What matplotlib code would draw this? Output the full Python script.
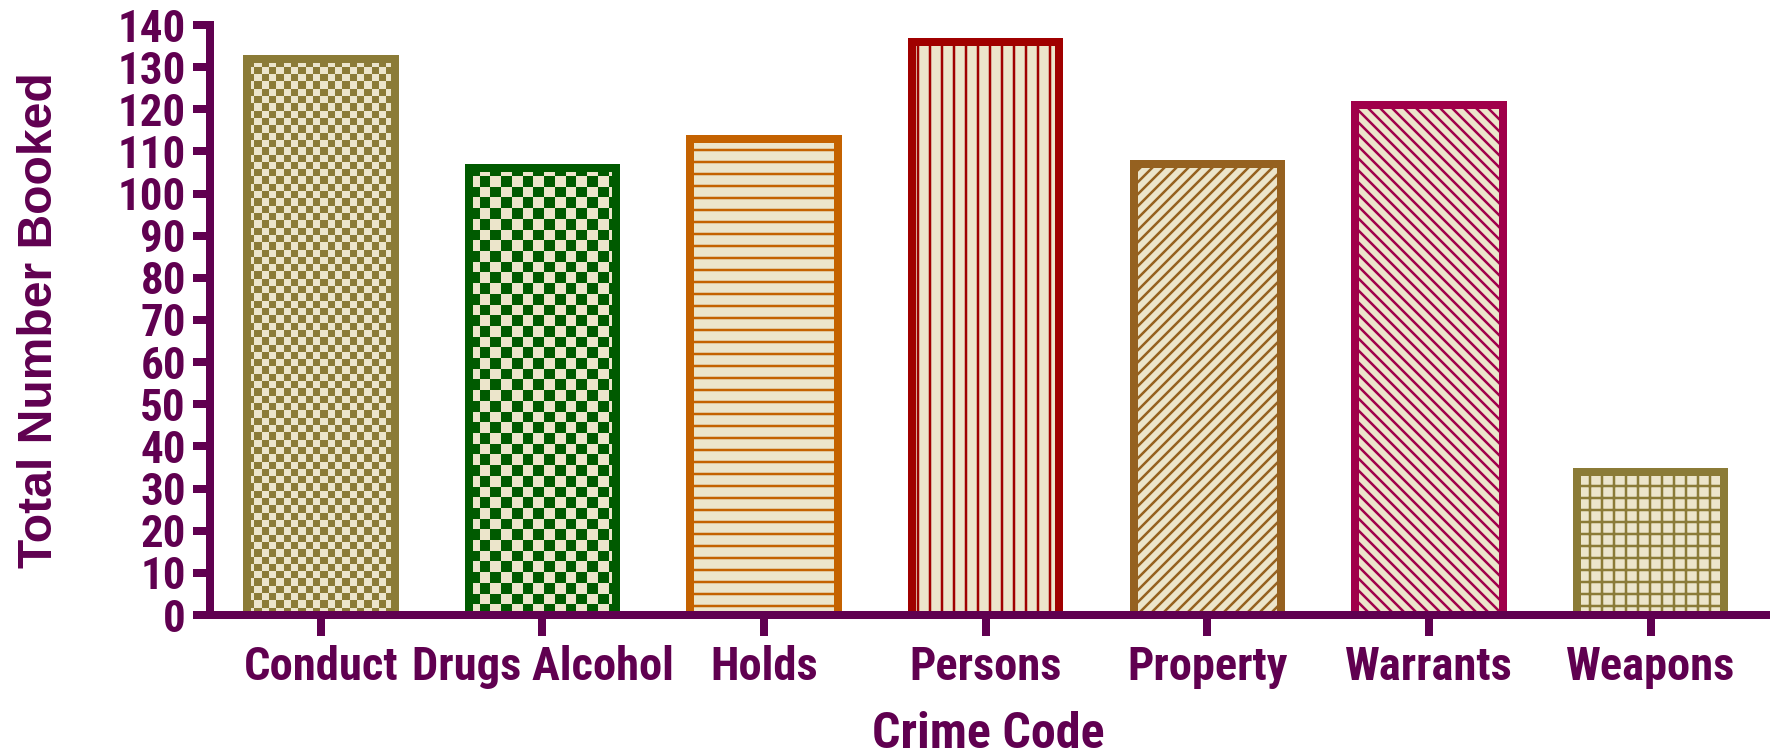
import matplotlib
matplotlib.use("Agg")
import matplotlib.pyplot as plt
import numpy as np
from matplotlib.colors import ListedColormap

# ── Data ──────────────────────────────────────────────────────────────────────

categories = ["Conduct", "Drugs Alcohol", "Holds", "Persons",
              "Property", "Warrants", "Weapons"]
booked = [132, 106, 113, 136, 107, 121, 34]
y_ticks = list(range(0, 141, 10))

# ── Styling ───────────────────────────────────────────────────────────────────

PURPLE = "#600050"
CREAM = "#ECE5CB"
edge_colors = ["#8B7B37", "#005A00", "#C46200", "#A00000",
               "#956120", "#A0004A", "#8B7B37"]
# None -> checkerboard drawn as image, cell size in px
hatches = [None, None, "-", "|", "//", "\\\\", "+"]
checker_px = {0: 7.3, 1: 10.7}

NARROW = ["Roboto Condensed", "Liberation Sans", "DejaVu Sans"]
WIDE = ["Liberation Sans", "DejaVu Sans"]

plt.rcParams.update({"hatch.linewidth": 2.5})

DPI = 72
fig = plt.figure(figsize=(1773 / DPI, 755 / DPI), dpi=DPI)
fig.patch.set_facecolor("white")
ax = fig.add_axes([210 / 1773, 140 / 755, 1556 / 1773, 590 / 755])

ax.set_xlim(-0.5, 6.52)
ax.set_ylim(0, 140)

x = np.arange(len(categories))
width = 0.665

bars = []
for i, (v, ec, h) in enumerate(zip(booked, edge_colors, hatches)):
    fc = CREAM if h else "none"
    b = ax.bar(x[i], v, width=width, facecolor=fc, edgecolor=ec,
               linewidth=8, hatch=h, zorder=3)[0]
    bars.append(b)


def checker_fill(patch, color, cell_px):
    x0, y0 = patch.get_x(), patch.get_y()
    w, h = patch.get_width(), patch.get_height()
    p0 = ax.transData.transform((0, 0))
    p1 = ax.transData.transform((1, 1))
    sx, sy = p1[0] - p0[0], p1[1] - p0[1]
    nx = int(np.ceil(w * sx / cell_px))
    ny = int(np.ceil(h * sy / cell_px))
    grid = np.add.outer(np.arange(ny), np.arange(nx)) % 2
    ext = (x0, x0 + nx * cell_px / sx, y0, y0 + ny * cell_px / sy)
    im = ax.imshow(grid, cmap=ListedColormap([CREAM, color]), extent=ext,
                   origin="lower", interpolation="nearest", aspect="auto",
                   zorder=2)
    im.set_clip_path(patch)


for i, cell in checker_px.items():
    checker_fill(bars[i], edge_colors[i], cell)

ax.set_xlim(-0.5, 6.52)
ax.set_ylim(0, 140)

# ── Axes ──────────────────────────────────────────────────────────────────────

for s in ["top", "right"]:
    ax.spines[s].set_visible(False)
for s in ["left", "bottom"]:
    ax.spines[s].set_color(PURPLE)
    ax.spines[s].set_linewidth(8)
    ax.spines[s].set_zorder(4)

ax.set_yticks(y_ticks)
ax.set_xticks(x)
ax.set_xticklabels(categories)
ax.tick_params(axis="y", length=17, width=8, color=PURPLE, pad=7,
               labelcolor=PURPLE)
ax.tick_params(axis="x", length=21, width=8, color=PURPLE, pad=9,
               labelcolor=PURPLE)
for lab in ax.get_yticklabels():
    lab.set_fontfamily(NARROW)
    lab.set_fontweight("bold")
    lab.set_fontsize(45)
for lab in ax.get_xticklabels():
    lab.set_fontfamily(NARROW)
    lab.set_fontweight("bold")
    lab.set_fontsize(46.5)

ax.set_ylabel("Total Number Booked", color=PURPLE, fontsize=48,
              fontweight="bold", family=WIDE)
ax.yaxis.set_label_coords(-0.0954, 0.5)
ax.set_xlabel("Crime Code", color=PURPLE, fontsize=50,
              fontweight="bold", family=NARROW)
ax.xaxis.set_label_coords(0.5, -0.162)

fig.savefig("out.png", dpi=DPI, facecolor="white")
